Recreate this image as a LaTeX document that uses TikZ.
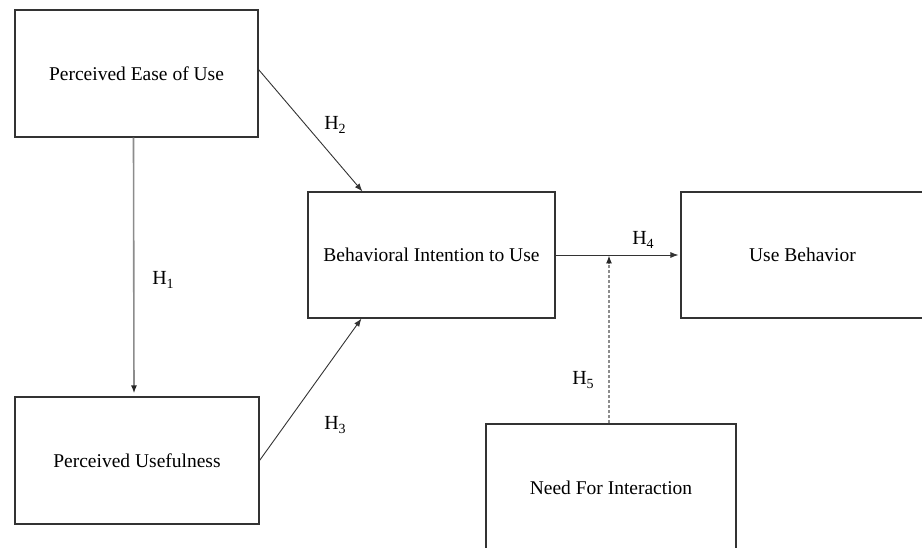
\documentclass[tikz,border=0pt]{standalone}
\usepackage{fontspec}
\setmainfont{Liberation Serif}
\usetikzlibrary{calc,arrows.meta}
\newcommand{\hyp}[1]{H\raisebox{-0.45ex}{\fontsize{14}{14}\selectfont #1}}
\begin{document}
\begin{tikzpicture}[x=1pt,y=-1pt,
  box/.style={draw=black!80,line width=1.1pt,rectangle,inner sep=0pt,
    minimum width=#1,minimum height=127pt,font=\fontsize{19.5}{23}\selectfont},
  box/.default=244pt,
  lbl/.style={font=\fontsize{20}{24}\selectfont,inner sep=0pt},
  arr/.style={draw=black!80,line width=0.9pt,-{Latex[length=8pt,width=6pt]}},
  garr/.style={draw=black!45,line width=1.6pt,
    arrows={-{Latex[length=8pt,width=6pt,color=black!85]}}},
  darr/.style={draw=black!45,line width=1.2pt,dash pattern=on 3pt off 2pt,
    arrows={-{Latex[length=8pt,width=6pt,color=black!85]}}}]
\useasboundingbox (0,0) rectangle (922,548);
\node[box=243pt] (peou) at (136.5,73.5) {Perceived Ease of Use};
\node[box=244pt] (pu) at (137,460.5) {Perceived Usefulness};
\node[box=247pt,minimum height=126pt] (bi) at (431.5,255) {Behavioral Intention to Use};
\node[box=243pt,minimum height=126pt] (ub) at (802.5,255) {Use Behavior};
\node[box=250pt] (nfi) at (611,487.5) {Need For Interaction};
\draw[garr,shorten >=3pt] ($(peou.south)+(-3,0)$) -- ($(pu.north)+(-3,0)$);
\draw[arr] ($(peou.east)+(0,-4)$) -- ($(bi.north west)+(55,0)$);
\draw[arr] ($(pu.east)+(0,0)$) -- ($(bi.south west)+(54,0)$);
\draw[arr,shorten >=2pt] (bi.east) -- (ub.west);
\coordinate (j) at (nfi.north |- bi.east);
\draw[darr] ($(nfi.north)+(-2,0)$) -- ($(j)+(-2,0.5)$);
\node[lbl] (h1) at (163,280) {\hyp{1}};
\node[lbl] (h2) at (335,125) {\hyp{2}};
\node[lbl] (h3) at (335,425) {\hyp{3}};
\node[lbl] (h4) at (643,240) {\hyp{4}};
\node[lbl] (h5) at (583,380) {\hyp{5}};
\end{tikzpicture}
\end{document}
